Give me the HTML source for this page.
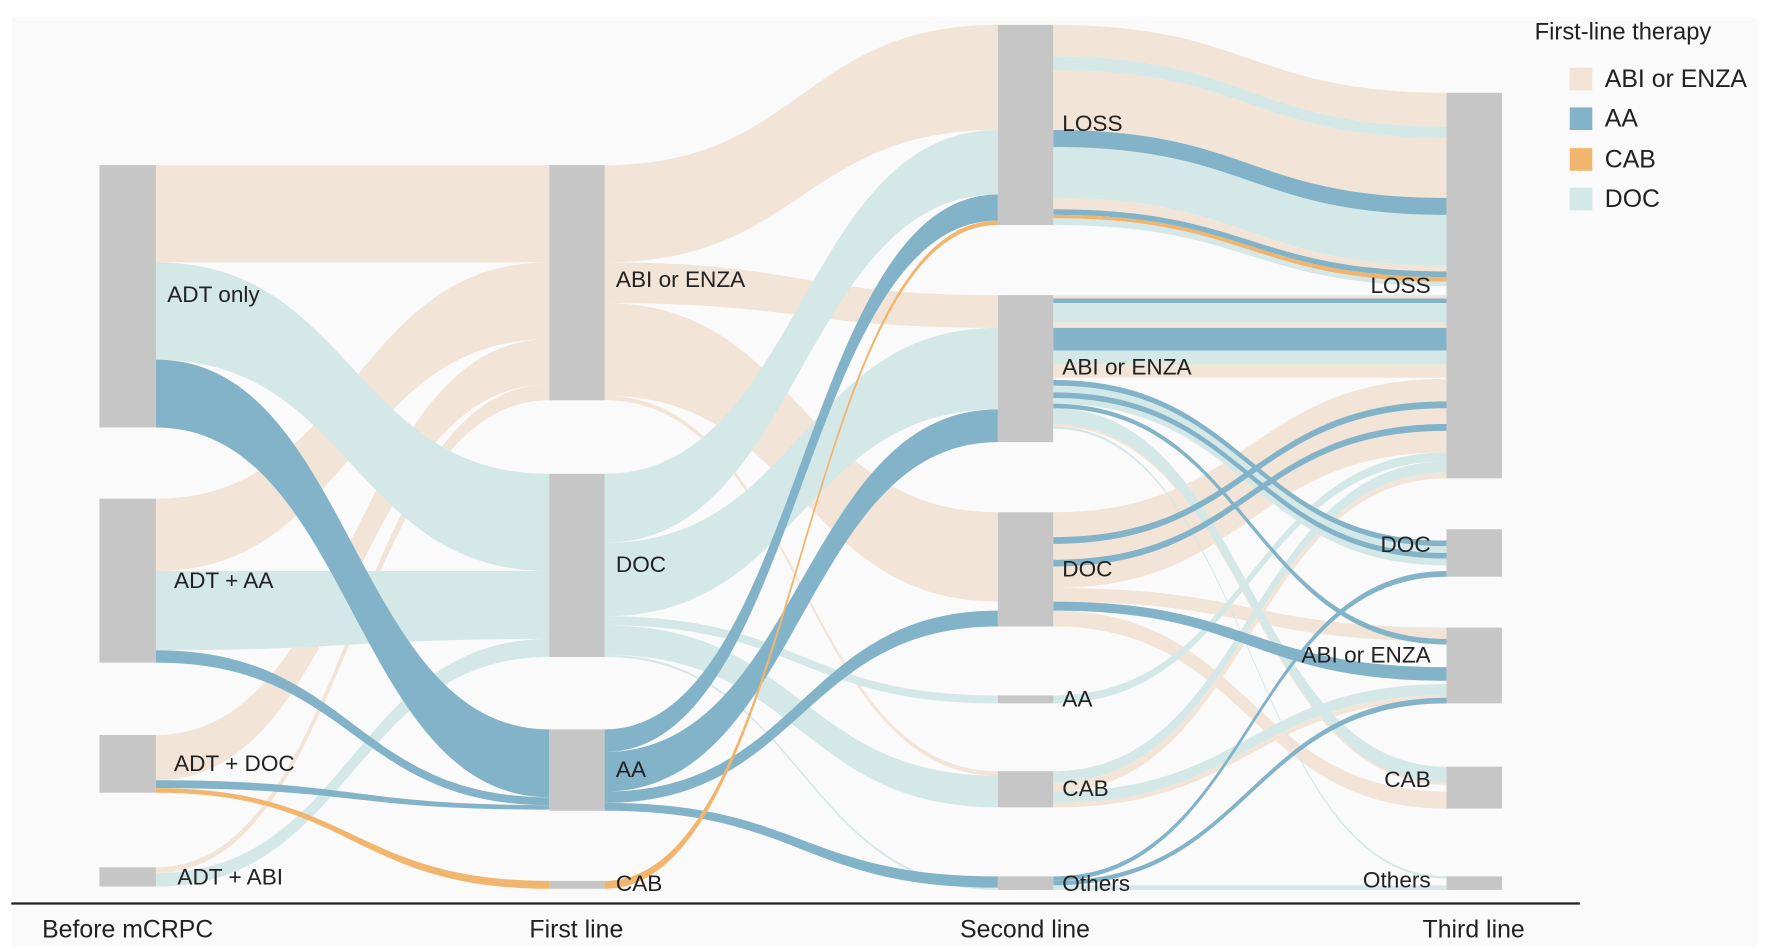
<!DOCTYPE html>
<html><head><meta charset="utf-8"><style>
html,body{margin:0;padding:0;background:#fff;}
svg{display:block;}
text{font-family:"Liberation Sans",sans-serif;fill:#222;}
</style></head><body>
<svg id="s" width="1772" height="951" viewBox="0 0 1568 841" preserveAspectRatio="none" xmlns="http://www.w3.org/2000/svg">
<rect x="10" y="15" width="1545" height="822" fill="#fafafa"/>
<g id="links"></g>
<g id="nodes" fill="#c6c6c6">
<rect x="88" y="146" width="50" height="232"/>
<rect x="88" y="441" width="50" height="145"/>
<rect x="88" y="650" width="50" height="51"/>
<rect x="88" y="767" width="50" height="17"/>
<rect x="486" y="146" width="49" height="208"/>
<rect x="486" y="419" width="49" height="162"/>
<rect x="486" y="645" width="49" height="72"/>
<rect x="486" y="779" width="49" height="7"/>
<rect x="883" y="22" width="49" height="177"/>
<rect x="883" y="261" width="49" height="130"/>
<rect x="883" y="453" width="49" height="101"/>
<rect x="883" y="615" width="49" height="7"/>
<rect x="883" y="682" width="49" height="32"/>
<rect x="883" y="775" width="49" height="12"/>
<rect x="1280" y="82" width="49" height="341"/>
<rect x="1280" y="468" width="49" height="42"/>
<rect x="1280" y="555" width="49" height="67"/>
<rect x="1280" y="678" width="49" height="37"/>
<rect x="1280" y="775" width="49" height="12"/>
</g>
<g font-size="20">
<text x="148" y="267">ADT only</text>
<text x="154" y="520">ADT + AA</text>
<text x="154" y="682">ADT + DOC</text>
<text x="157" y="782">ADT + ABI</text>
<text x="545" y="254">ABI or ENZA</text>
<text x="545" y="506">DOC</text>
<text x="545" y="687">AA</text>
<text x="545" y="788">CAB</text>
<text x="940" y="116">LOSS</text>
<text x="940" y="331">ABI or ENZA</text>
<text x="940" y="510">DOC</text>
<text x="940" y="625">AA</text>
<text x="940" y="704">CAB</text>
<text x="940" y="788">Others</text>
<text x="1266" y="259" text-anchor="end">LOSS</text>
<text x="1266" y="488" text-anchor="end">DOC</text>
<text x="1266" y="586" text-anchor="end">ABI or ENZA</text>
<text x="1266" y="696" text-anchor="end">CAB</text>
<text x="1266" y="785" text-anchor="end">Others</text>
</g>
<line x1="10" y1="799" x2="1398" y2="799" stroke="#222" stroke-width="2"/>
<g font-size="22">
<text x="113" y="829" text-anchor="middle">Before mCRPC</text>
<text x="510" y="829" text-anchor="middle">First line</text>
<text x="907" y="829" text-anchor="middle">Second line</text>
<text x="1304" y="829" text-anchor="middle">Third line</text>
<text x="1358" y="35" font-size="21">First-line therapy</text>
<rect x="1389" y="60" width="20" height="20" fill="#f2e4d6"/>
<rect x="1389" y="95" width="20" height="20" fill="#82b3c8"/>
<rect x="1389" y="131" width="20" height="20" fill="#f2b56e"/>
<rect x="1389" y="166" width="20" height="20" fill="#d4e8e7"/>
<text x="1420" y="77">ABI or ENZA</text>
<text x="1420" y="112">AA</text>
<text x="1420" y="148">CAB</text>
<text x="1420" y="183">DOC</text>
</g>
</svg>
<script>
var C={b:"#f2e4d6",a:"#82b3c8",c:"#f2b56e",d:"#d4e8e7"};
var X=[138,535,932];var X2=[486,883,1280];
var L=[
[0,'b',146,232,146,232],[0,'d',232,318,419,505],[0,'a',318,378,645,705],
[0,'b',441,505,232,300],[0,'d',505,575,505,565],[0,'a',575,586,705,712],
[0,'b',650,690,300,340],[0,'a',690,697,712,716],[0,'c',697,701,779,786],
[0,'b',767,772,340,354],[0,'d',772,784,565,581],
[1,'b',146,232,22,115],[1,'b',232,268,261,290],[1,'b',268,350,453,532],[1,'b',350,354,682,686],
[1,'d',419,480,115,172],[1,'d',480,545,290,362],[1,'d',545,553,615,622],[1,'d',553,579,686,714],[1,'d',579,581,785,787],
[1,'a',645,665,172,195],[1,'a',665,700,362,391],[1,'a',700,710,540,554],[1,'a',710,717,775,785],
[1,'c',779,786,195,199],
[2,'b',22,50,82,112],[2,'d',50,62,112,122],[2,'b',62,115,122,175],[2,'a',115,130,175,190],[2,'d',130,175,190,235],
[2,'b',175,185,235,240],[2,'a',185,190,240,245],[2,'c',190,193,245,249],[2,'d',193,199,249,253],
[2,'b',261,264,261,264],[2,'a',264,268,264,268],[2,'d',268,285,268,285],[2,'b',285,290,285,290],[2,'a',290,310,290,310],[2,'d',310,322,310,322],[2,'b',322,334,322,334],
[2,'a',336,341,478,483],[2,'d',341,347,483,489],[2,'a',347,352,489,494],[2,'d',352,357,494,500],[2,'a',357,361,565,570],[2,'d',361,375,678,692],[2,'b',375,377,690,694],[2,'d',377,379,775,777],
[2,'b',453,475,335,355],[2,'a',475,481,355,361],[2,'b',481,495,361,375],[2,'a',495,501,375,381],[2,'b',501,520,381,400],[2,'b',520,532,555,567],[2,'a',532,540,590,602],[2,'b',540,554,700,715],
[2,'d',615,622,400,408],
[2,'d',682,692,408,418],[2,'b',692,700,418,423],[2,'d',700,710,605,615],[2,'b',710,714,615,620],
[2,'a',775,779,505,510],[2,'a',779,783,617,622],[2,'d',783,787,783,787]
];
var g=document.getElementById('links'),h='';
['b','d','a','c'].forEach(function(k){
L.forEach(function(l){if(l[1]!==k)return;var x1=X[l[0]],x2=X2[l[0]],m=(x1+x2)/2;
h+='<path fill="'+C[l[1]]+'" d="M'+x1+','+l[2]+'C'+m+','+l[2]+' '+m+','+l[4]+' '+x2+','+l[4]+'L'+x2+','+l[5]+'C'+m+','+l[5]+' '+m+','+l[3]+' '+x1+','+l[3]+'Z"/>';});
});
g.innerHTML=h;
</script>
</body></html>
